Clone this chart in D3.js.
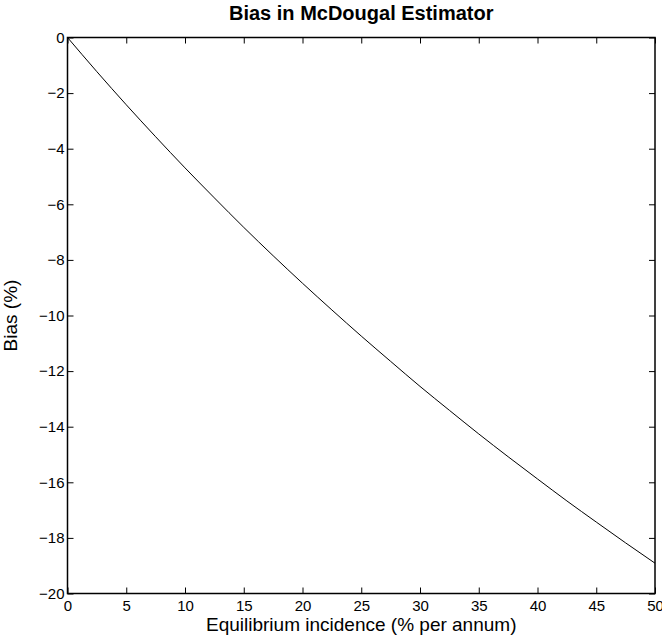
<!DOCTYPE html>
<html>
<head>
<meta charset="utf-8">
<script src="https://cdnjs.cloudflare.com/ajax/libs/d3/7.8.5/d3.min.js"></script>
<style>
  body { margin: 0; background: #fff; }
  text { font-family: "Liberation Sans", Arial, Helvetica, sans-serif; fill: #000; }
  .tick-label { font-size: 15px; }
  .axis-label { font-size: 19px; }
  .title { font-size: 20px; font-weight: bold; }
</style>
</head>
<body>
<div id="chart"></div>
<script>
// values
var incidence = [0, 2.5, 5, 7.5, 10, 12.5, 15, 17.5, 20, 22.5, 25, 27.5, 30, 32.5, 35, 37.5, 40, 42.5, 45, 47.5, 50];
var bias = [0, -1.23, -2.42, -3.57, -4.69, -5.77, -6.83, -7.85, -8.84, -9.80, -10.74, -11.65, -12.55, -13.41, -14.26, -15.08, -15.88, -16.67, -17.43, -18.18, -18.91];
var xTicks = [0, 5, 10, 15, 20, 25, 30, 35, 40, 45, 50];
var yTicks = [0, -2, -4, -6, -8, -10, -12, -14, -16, -18, -20];

var width = 662;
var height = 639;
// plot box (don't call it "top", window.top is taken)
var boxLeft = 67.5, boxRight = 655, boxTop = 37.5, boxBottom = 593.5;
var tickLen = 6;

var svg = d3.select('#chart').append('svg')
  .attr('width', width)
  .attr('height', height);

var xScale = d3.scaleLinear()
  .domain([0, 50])
  .range([boxLeft, boxRight]);

var yScale = d3.scaleLinear()
  .domain([-20, 0])
  .range([boxBottom, boxTop]);

function minus(d) {
  return d < 0 ? '\u2212' + Math.abs(d) : d;
}

// axes, ticks point inside the box like matlab
var xAxis = d3.axisBottom(xScale).tickValues(xTicks).tickSizeInner(-tickLen).tickSizeOuter(0).tickPadding(9);
var yAxis = d3.axisLeft(yScale).tickValues(yTicks).tickSizeInner(-tickLen).tickSizeOuter(0).tickPadding(9)
  .tickFormat(minus);

svg.append('g')
  .attr('class', 'x axis')
  .attr('transform', 'translate(0,' + boxBottom + ')')
  .call(xAxis);

svg.append('g')
  .attr('class', 'y axis')
  .attr('transform', 'translate(' + boxLeft + ',0)')
  .call(yAxis);

// top and right ticks, no labels
svg.append('g')
  .attr('transform', 'translate(0,' + boxTop + ')')
  .call(d3.axisTop(xScale).tickValues(xTicks).tickSizeInner(-tickLen).tickSizeOuter(0).tickFormat(''));

svg.append('g')
  .attr('transform', 'translate(' + boxRight + ',0)')
  .call(d3.axisRight(yScale).tickValues(yTicks).tickSizeInner(-tickLen).tickSizeOuter(0).tickFormat(''));

svg.selectAll('.domain').remove();
svg.selectAll('.tick line').attr('stroke', '#000').attr('stroke-width', 1);
svg.selectAll('.tick text')
  .attr('class', 'tick-label')
  .attr('font-size', null)
  .attr('font-family', null);
svg.selectAll('.x.axis .tick text').attr('y', 7).attr('dy', '0.71em');
svg.selectAll('.y.axis .tick text').attr('x', -3);

// box
svg.append('rect')
  .attr('x', boxLeft)
  .attr('y', boxTop)
  .attr('width', boxRight - boxLeft)
  .attr('height', boxBottom - boxTop)
  .attr('fill', 'none')
  .attr('stroke', '#000')
  .attr('stroke-width', 1.5);

// curve
var line = d3.line()
  .x(function(d, i) { return xScale(incidence[i]); })
  .y(function(d) { return yScale(d); })
  .curve(d3.curveMonotoneX);

svg.append('path')
  .datum(bias)
  .attr('d', line)
  .attr('fill', 'none')
  .attr('stroke', '#000')
  .attr('stroke-width', 1);

// labels
svg.append('text')
  .attr('class', 'title')
  .attr('text-anchor', 'middle')
  .attr('x', (boxLeft + boxRight) / 2)
  .attr('y', 20)
  .text('Bias in McDougal Estimator');

svg.append('text')
  .attr('class', 'axis-label')
  .attr('text-anchor', 'middle')
  .attr('x', (boxLeft + boxRight) / 2)
  .attr('y', 631)
  .text('Equilibrium incidence (% per annum)');

svg.append('text')
  .attr('class', 'axis-label')
  .attr('text-anchor', 'middle')
  .attr('transform', 'translate(17,' + ((boxTop + boxBottom) / 2) + ') rotate(-90)')
  .text('Bias (%)');
</script>
</body>
</html>
